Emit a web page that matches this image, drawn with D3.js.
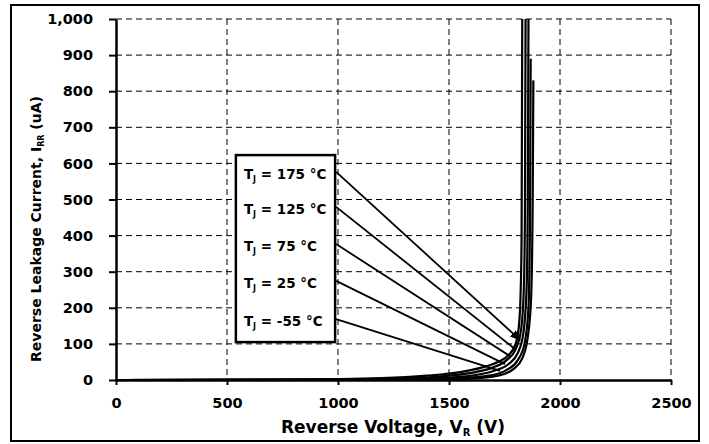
<!DOCTYPE html>
<html>
<head>
<meta charset="utf-8">
<script src="https://cdn.jsdelivr.net/npm/d3@7"></script>
<style>
  body { margin: 0; background: #fff; }
  text { font-family: "DejaVu Sans", Verdana, sans-serif; font-weight: bold; fill: #000; }
</style>
</head>
<body>
<div id="chart"></div>
<script>
var svgWidth = 709, svgHeight = 444;
var margin = {top: 19, right: 38, bottom: 64, left: 116};
var width = 671 - margin.left;
var height = 380 - margin.top;

// tick values
var xTicks = [0, 500, 1000, 1500, 2000, 2500];
var yTicks = [0, 100, 200, 300, 400, 500, 600, 700, 800, 900, 1000];

// leakage curves, [V, uA]
var curve175 = [[0,0],[800,1],[1200,5],[1400,12],[1550,22],[1650,35],[1720,50],[1770,70],[1800,100],[1815,150],[1823,250],[1827,400],[1830,1000]];
var curve125 = [[0,0],[1000,1],[1300,4],[1500,12],[1620,22],[1700,35],[1760,55],[1800,85],[1825,140],[1837,250],[1842,450],[1845,1000]];
var curve75  = [[0,0],[1200,1],[1450,5],[1600,12],[1700,25],[1770,45],[1810,75],[1835,130],[1850,260],[1855,500],[1858,1000]];
var curve25  = [[0,0],[1300,1],[1550,5],[1680,12],[1760,28],[1810,55],[1840,100],[1858,200],[1865,450],[1868,890]];
var curveM55 = [[0,0],[1400,1],[1600,4],[1720,12],[1790,30],[1830,60],[1855,120],[1870,230],[1877,500],[1880,830]];
var curves = [curve175, curve125, curve75, curve25, curveM55];

// legend labels and leader lines (data units)
var legendTemps = ["175", "125", "75", "25", "-55"];
var labelY = [571, 474, 371, 269, 163];
var leaderEnd = [[1820,111],[1797,86],[1775,66],[1752,44],[1730,25]];
var boxV = [540, 987];
var boxI = [105, 623];

var svg = d3.select("#chart").append("svg")
  .attr("width", svgWidth)
  .attr("height", svgHeight);

// outer frame
svg.append("rect")
  .attr("x", 11).attr("y", 5)
  .attr("width", 688).attr("height", 436)
  .attr("fill", "none").attr("stroke", "#000").attr("stroke-width", 2);

var g = svg.append("g")
  .attr("transform", `translate(${margin.left}, ${margin.top})`);

var x = d3.scaleLinear().domain([0, 2500]).range([0, width]);
var y = d3.scaleLinear().domain([0, 1000]).range([height, 0]);

// grid
g.selectAll(".vgrid").data(xTicks.slice(1)).enter().append("line")
  .attr("x1", d => x(d)).attr("x2", d => x(d))
  .attr("y1", 0).attr("y2", height)
  .attr("stroke", "#000").attr("stroke-width", 1).attr("stroke-dasharray", "6,4");
g.selectAll(".hgrid").data(yTicks.slice(1)).enter().append("line")
  .attr("x1", 0).attr("x2", width)
  .attr("y1", d => y(d)).attr("y2", d => y(d))
  .attr("stroke", "#000").attr("stroke-width", 1).attr("stroke-dasharray", "6,4");

// axes
var xAxis = g.append("g")
  .attr("transform", `translate(0, ${height})`)
  .call(d3.axisBottom(x).tickValues(xTicks).tickSize(5).tickSizeOuter(0).tickPadding(13)
    .tickFormat(d3.format("d")));
var yAxis = g.append("g")
  .call(d3.axisLeft(y).tickValues(yTicks).tickSize(7).tickSizeOuter(0).tickPadding(16)
    .tickFormat(d3.format(",")));
[xAxis, yAxis].forEach(function(a) {
  a.select(".domain").attr("stroke-width", 2.5);
  a.selectAll(".tick line").attr("stroke-width", 2);
  a.selectAll(".tick text").attr("font-size", "14.5px")
    .attr("font-family", "'DejaVu Sans', sans-serif").attr("font-weight", "bold");
});

// curves
var line = d3.line()
  .x(d => x(d[0]))
  .y(d => y(d[1]))
  .curve(d3.curveMonotoneX);
g.selectAll(".curve").data(curves).enter().append("path")
  .attr("d", line)
  .attr("fill", "none").attr("stroke", "#000").attr("stroke-width", 2.2);

// legend box
g.append("rect")
  .attr("x", x(boxV[0])).attr("y", y(boxI[1]))
  .attr("width", x(boxV[1]) - x(boxV[0]))
  .attr("height", y(boxI[0]) - y(boxI[1]))
  .attr("fill", "#fff").attr("stroke", "#000").attr("stroke-width", 2.5);

svg.append("defs").append("marker")
  .attr("id", "arr").attr("viewBox", "0 0 10 10")
  .attr("refX", 9).attr("refY", 5)
  .attr("markerWidth", 6).attr("markerHeight", 6)
  .attr("orient", "auto")
  .append("path").attr("d", "M0,1 L10,5 L0,9 Z").attr("fill", "#000");

legendTemps.forEach(function(t, i) {
  var tx = g.append("text")
    .attr("x", x(boxV[0]) + 8)
    .attr("y", y(labelY[i]) + 5)
    .attr("font-size", "13.5px");
  tx.append("tspan").text("T");
  tx.append("tspan").attr("font-size", "8px").attr("dy", 3).text("J");
  tx.append("tspan").attr("dy", -3).text(" = " + t + " °C");

  g.append("line")
    .attr("x1", x(boxV[1]) + 1).attr("y1", y(labelY[i]) - 2)
    .attr("x2", x(leaderEnd[i][0])).attr("y2", y(leaderEnd[i][1]))
    .attr("stroke", "#000").attr("stroke-width", 1.8)
    .attr("marker-end", i == 0 ? "url(#arr)" : null);
});

// axis titles
var xt = svg.append("text")
  .attr("x", 393).attr("y", 433)
  .attr("text-anchor", "middle")
  .attr("font-size", "17px");
xt.append("tspan").text("Reverse Voltage, V");
xt.append("tspan").attr("font-size", "10px").attr("dy", 3).text("R");
xt.append("tspan").attr("dy", -3).text(" (V)");

var yt = svg.append("text")
  .attr("transform", "translate(41, 229) rotate(-90)")
  .attr("text-anchor", "middle")
  .attr("font-size", "14px");
yt.append("tspan").text("Reverse Leakage Current, I");
yt.append("tspan").attr("font-size", "8px").attr("dy", 3).text("RR");
yt.append("tspan").attr("dy", -3).text(" (uA)");
</script>
</body>
</html>
